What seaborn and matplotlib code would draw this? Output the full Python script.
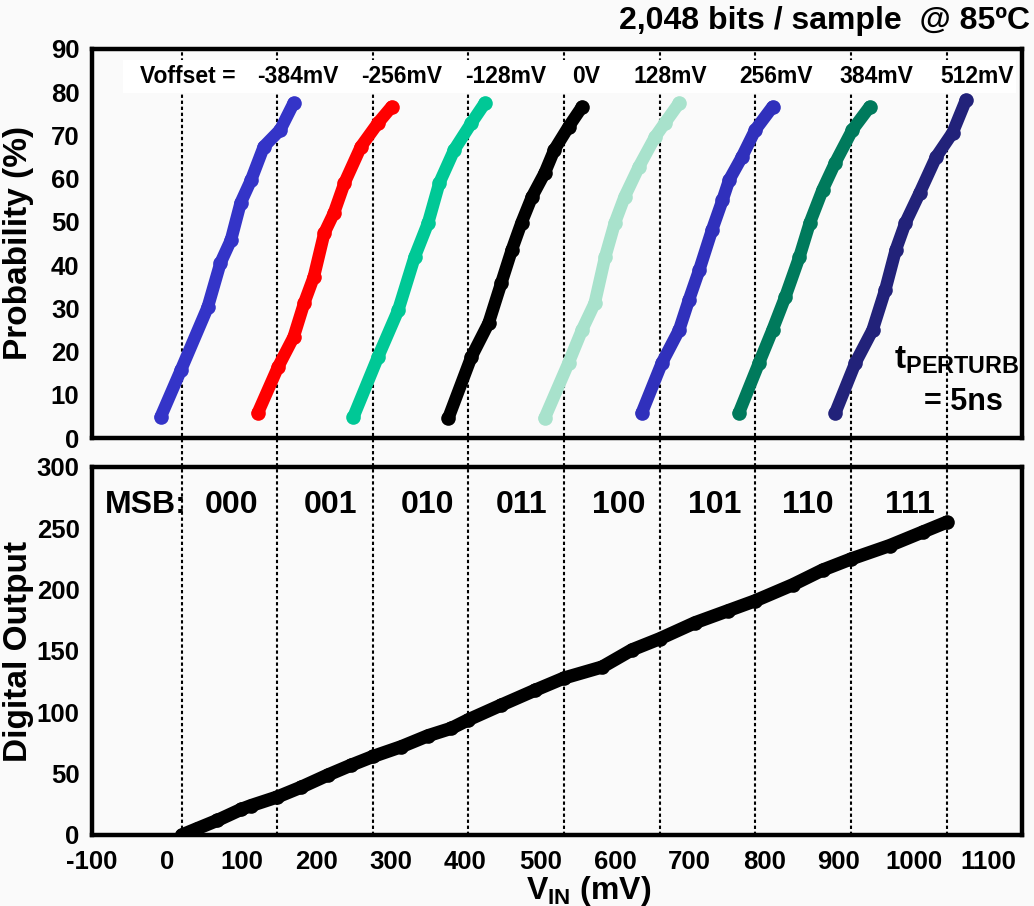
import matplotlib
matplotlib.use("Agg")
import matplotlib.pyplot as plt
import seaborn as sns
import pandas as pd
from matplotlib.patches import Rectangle

# ---------------- data ----------------
offset_labels = ["-384mV", "-256mV", "-128mV", "0V", "128mV", "256mV", "384mV", "512mV"]
curve_colors = ["#3434c8", "#ff0000", "#00c896", "#000000", "#a8e2cc", "#3030bc", "#007a5c", "#22227a"]

c1_x = [-8, 19, 55, 72, 86, 99, 113, 130, 152, 170]
c1_y = [4.9, 15.7, 30.3, 40.5, 45.8, 54.4, 59.7, 67.4, 71.3, 77.5]
c2_x = [122, 149, 170, 184, 197, 211, 224, 238, 260, 283, 301]
c2_y = [5.8, 16.4, 23.4, 31.2, 37.3, 47.4, 52.1, 59.0, 67.4, 72.9, 76.6]
c3_x = [250, 283, 310, 332, 350, 365, 385, 408, 426]
c3_y = [4.9, 18.8, 29.6, 41.9, 49.8, 59.0, 66.7, 72.9, 77.5]
c4_x = [377, 408, 431, 448, 462, 475, 489, 506, 519, 538, 556]
c4_y = [4.6, 18.8, 26.6, 35.9, 43.5, 49.8, 55.8, 61.3, 66.7, 72.0, 76.6]
c5_x = [506, 538, 556, 573, 587, 600, 613, 632, 654, 667, 686]
c5_y = [4.6, 17.4, 25.0, 31.2, 41.9, 49.8, 55.8, 62.7, 69.7, 72.9, 77.5]
c6_x = [636, 663, 686, 699, 713, 730, 744, 753, 770, 788, 811]
c6_y = [5.8, 17.4, 25.0, 31.9, 38.9, 48.1, 55.0, 59.7, 65.0, 71.3, 76.6]
c7_x = [766, 793, 811, 828, 847, 861, 878, 895, 918, 941]
c7_y = [5.8, 17.4, 25.0, 32.6, 41.9, 49.8, 57.4, 63.7, 71.3, 76.6]
c8_x = [895, 922, 945, 962, 976, 989, 1008, 1030, 1052, 1070]
c8_y = [5.8, 17.4, 25.0, 34.3, 43.5, 49.8, 56.7, 65.0, 70.6, 78.2]

vin_mv = [20, 40, 68, 100, 113, 148, 180, 216, 247, 276, 314, 350, 381, 404, 448,
          493, 532, 583, 623, 660, 707, 752, 788, 838, 878, 916, 968, 1012, 1044]
digital_out = [0, 5, 12, 21, 24, 31, 39, 49, 57, 64, 72, 81, 87, 94, 106,
               118, 128, 137, 151, 160, 173, 183, 191, 204, 216, 225, 236, 247, 255]

boundaries_mv = [20, 148, 276, 404, 532, 660, 788, 916, 1044]
msb_codes = ["000", "001", "010", "011", "100", "101", "110", "111"]
x_ticks = list(range(-100, 1101, 100))
top_y_ticks = list(range(0, 91, 10))
bot_y_ticks = list(range(0, 301, 50))

# ---------------- style ----------------
sns.set_theme(style="white")
plt.rcParams["font.family"] = ["Liberation Sans", "DejaVu Sans"]
plt.rcParams["font.weight"] = "bold"
plt.rcParams["axes.unicode_minus"] = False
for k in ("text.color", "axes.labelcolor", "xtick.color", "ytick.color"):
    plt.rcParams[k] = "black"
plt.rcParams["mathtext.fontset"] = "custom"
plt.rcParams["mathtext.rm"] = "Liberation Sans:bold"
plt.rcParams["mathtext.bf"] = "Liberation Sans:bold"
plt.rcParams["mathtext.it"] = "Liberation Sans:bold"

W, H = 1034, 906
BG = "#fafafa"
fig = plt.figure(figsize=(W / 100, H / 100), dpi=100, facecolor=BG)

def ax_rect(l, t, r, b):
    return [l / W, 1 - b / H, (r - l) / W, (b - t) / H]

ax1 = fig.add_axes(ax_rect(92, 49, 1022, 438))
ax2 = fig.add_axes(ax_rect(92, 467, 1022, 835))
ax1.set_facecolor(BG)
ax2.set_facecolor("none")

XMIN, XMAX = -100, 1145

# ---------------- top panel ----------------
curves = [(c1_x, c1_y), (c2_x, c2_y), (c3_x, c3_y), (c4_x, c4_y),
          (c5_x, c5_y), (c6_x, c6_y), (c7_x, c7_y), (c8_x, c8_y)]
rows = []
for lab, (xs, ys) in zip(offset_labels, curves):
    for xv, yv in zip(xs, ys):
        rows.append({"offset": lab, "vin": xv, "prob": yv})
df_top = pd.DataFrame(rows)

sns.lineplot(data=df_top, x="vin", y="prob", hue="offset", hue_order=offset_labels,
             palette=curve_colors, sort=False, estimator=None, legend=False,
             linewidth=9, solid_capstyle="round", solid_joinstyle="round",
             marker="o", markersize=10.5, markeredgewidth=0,
             ax=ax1, zorder=4)

ax1.set_xlim(XMIN, XMAX)
ax1.set_ylim(0, 90)
ax1.set_yticks(top_y_ticks)
ax1.set_xticks(x_ticks)
ax1.set_xticklabels([])
ax1.set_xlabel("")
ax1.set_ylabel("")

# dotted boundaries spanning both panels (drawn in top axes, extended down)
ext = -(835 - 438) / (438 - 49)
for b in boundaries_mv:
    ax1.axvline(b, ymin=ext, ymax=1, color="black", linestyle=(0, (1.6, 1.3)),
                linewidth=1.5, clip_on=False, zorder=1)

# white label band
ax1.add_patch(Rectangle((-59, 79.9), 1196, 7.6, facecolor="white",
                        edgecolor="none", zorder=3))
label_x = [176, 314, 454, 561, 674, 816, 950, 1085]
ax1.text(28, 83.7, "Voffset =", ha="center", va="center", fontsize=16.5,
         fontweight="bold", zorder=5)
for lx, lab in zip(label_x, offset_labels):
    ax1.text(lx, 83.7, lab, ha="center", va="center", fontsize=16.5,
             fontweight="bold", zorder=5)

ax1.text(1058, 18.0, r"t$_{\rm PERTURB}$", ha="center", va="center",
         fontsize=24, fontweight="bold", zorder=5)
ax1.text(1066, 8.3, "= 5ns", ha="center", va="center", fontsize=22,
         fontweight="bold", zorder=5)

# ---------------- bottom panel ----------------
df_bot = pd.DataFrame({"vin": vin_mv, "code": digital_out})
sns.lineplot(data=df_bot, x="vin", y="code", color="black", sort=False,
             estimator=None, linewidth=9.5, solid_capstyle="round",
             solid_joinstyle="round", marker="o", markersize=10.5,
             markeredgewidth=0, ax=ax2, zorder=4)
ax2.set_xlim(XMIN, XMAX)
ax2.set_ylim(0, 300)
ax2.set_xticks(x_ticks)
ax2.set_yticks(bot_y_ticks)
ax2.set_xlabel("")
ax2.set_ylabel("")

ax2.text(-28, 269, "MSB:", ha="center", va="center", fontsize=23, fontweight="bold")
msb_x = [87, 219, 349, 475, 605, 734, 858, 995]
for mx, code in zip(msb_x, msb_codes):
    ax2.text(mx, 269, code, ha="center", va="center", fontsize=23, fontweight="bold")

# ---------------- axes styling ----------------
for ax in (ax1, ax2):
    for sp in ax.spines.values():
        sp.set_visible(True)
        sp.set_color("black")
        sp.set_linewidth(3.2)
        sp.set_zorder(6)
    ax.tick_params(axis="both", length=0, labelsize=18.5, colors="black")
    ax.tick_params(axis="y", pad=9)
    ax.tick_params(axis="x", pad=11)
    for t in ax.get_xticklabels() + ax.get_yticklabels():
        t.set_fontweight("bold")
    ax.grid(False)

ax1.yaxis.set_label_coords(-0.062, 0.5)
ax1.set_ylabel("Probability (%)", fontsize=24, fontweight="bold")
ax2.yaxis.set_label_coords(-0.062, 0.5)
ax2.set_ylabel("Digital Output", fontsize=24, fontweight="bold")

fig.text(589 / W, 1 - 899 / H, r"V$_{\rm IN}$ (mV)", ha="center", va="baseline",
         fontsize=23, fontweight="bold")
fig.text(1030 / W, 1 - 21 / H, "2,048 bits / sample  @ 85ºC", ha="right",
         va="center", fontsize=23, fontweight="bold")

fig.savefig("out.png", dpi=100, facecolor=BG)
